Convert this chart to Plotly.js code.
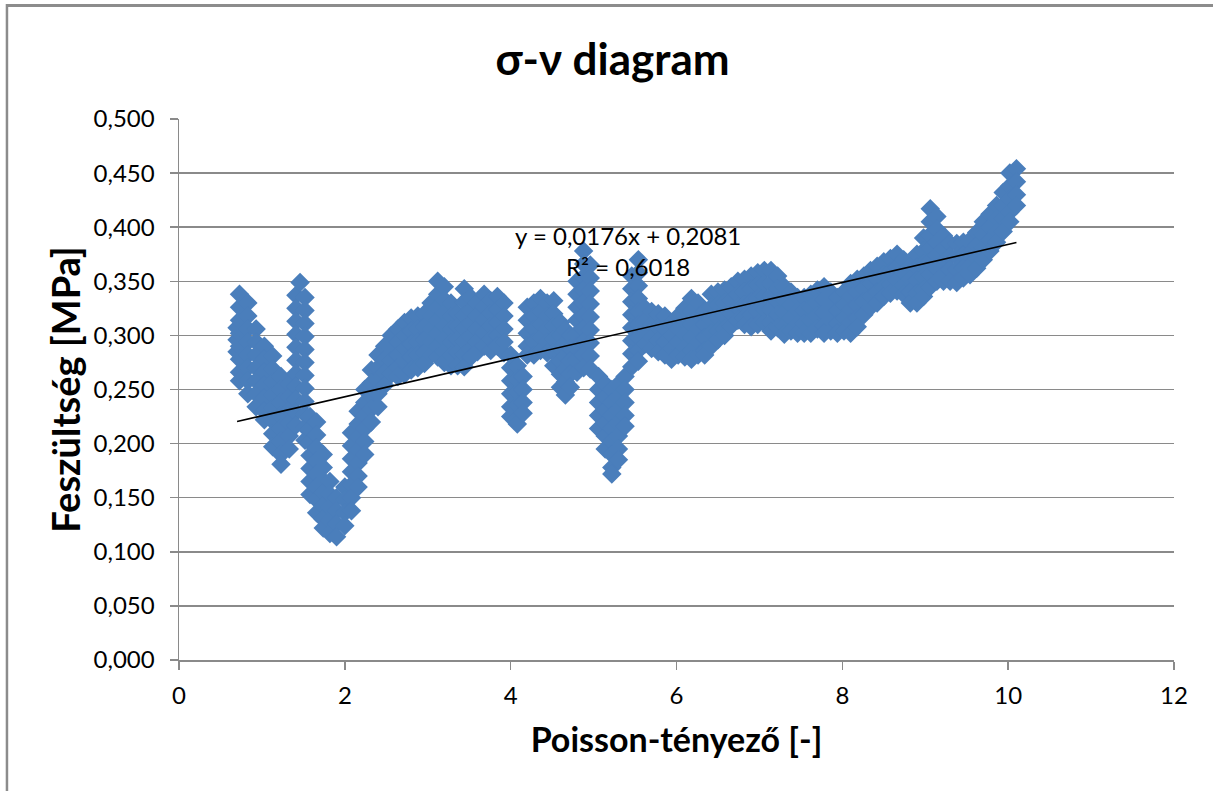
<!DOCTYPE html>
<html>
<head>
<meta charset="utf-8">
<script src="https://cdn.plot.ly/plotly-3.0.1.min.js"></script>
<style>
  html, body { margin: 0; padding: 0; background: #ffffff; }
  #chart { width: 1213px; height: 791px; }
</style>
</head>
<body>
<div id="chart"></div>
<script>
// ---- Data ----
// Each segment: column x values (Poisson-tényező) and, for each column, the stress values (MPa)
const segA_x = [0.70, 0.73, 0.83, 0.93, 1.03, 1.13, 1.23, 1.33, 1.41, 1.46, 1.52];
const segA_y = [
  [0.307, 0.296, 0.285],
  [0.338, 0.326, 0.314, 0.302, 0.290, 0.278, 0.266, 0.258],
  [0.330, 0.318, 0.306, 0.294, 0.282, 0.270, 0.258, 0.246],
  [0.306, 0.294, 0.282, 0.270, 0.258, 0.246, 0.234],
  [0.290, 0.278, 0.266, 0.254, 0.242, 0.230, 0.222],
  [0.281, 0.269, 0.257, 0.245, 0.233, 0.221, 0.209, 0.197],
  [0.262, 0.250, 0.238, 0.226, 0.214, 0.202, 0.190, 0.181],
  [0.255, 0.243, 0.231, 0.219, 0.207, 0.195],
  [0.337, 0.325, 0.313, 0.301, 0.289, 0.277, 0.265, 0.253, 0.241, 0.229, 0.217],
  [0.349],
  [0.335, 0.323, 0.311, 0.299, 0.287, 0.275, 0.263, 0.251, 0.239, 0.227, 0.215, 0.203]
];

const segB_x = [1.58, 1.66, 1.74, 1.82, 1.90, 2.00, 2.08, 2.16, 2.24, 2.32, 2.40, 2.48, 2.56, 2.64];
const segB_y = [
  [0.225, 0.213, 0.201, 0.189, 0.177, 0.165, 0.153],
  [0.220, 0.208, 0.196, 0.184, 0.172, 0.160, 0.148, 0.136],
  [0.190, 0.178, 0.166, 0.154, 0.142, 0.130, 0.122],
  [0.165, 0.153, 0.141, 0.129, 0.117],
  [0.150, 0.138, 0.126, 0.114],
  [0.160, 0.148, 0.136, 0.124],
  [0.210, 0.198, 0.186, 0.174, 0.162, 0.150, 0.138],
  [0.230, 0.218, 0.206, 0.194, 0.182, 0.170, 0.160],
  [0.250, 0.238, 0.226, 0.214, 0.202, 0.190],
  [0.268, 0.256, 0.244, 0.232, 0.220],
  [0.282, 0.270, 0.258, 0.246, 0.234],
  [0.290, 0.278, 0.266, 0.254],
  [0.300, 0.288, 0.276, 0.264],
  [0.306, 0.294, 0.282, 0.270, 0.262]
];

const segC_x = [2.72, 2.80, 2.88, 2.96, 3.04, 3.12, 3.20, 3.28, 3.36, 3.44, 3.52, 3.60, 3.68, 3.76, 3.84, 3.92];
const segC_y = [
  [0.312, 0.300, 0.288, 0.276, 0.264],
  [0.316, 0.304, 0.292, 0.280, 0.268],
  [0.318, 0.306, 0.294, 0.282, 0.270],
  [0.320, 0.308, 0.296, 0.284, 0.274],
  [0.330, 0.318, 0.306, 0.294, 0.282],
  [0.350, 0.338, 0.326, 0.314, 0.302, 0.290, 0.280],
  [0.345, 0.333, 0.321, 0.309, 0.297, 0.285, 0.275],
  [0.330, 0.318, 0.306, 0.294, 0.282, 0.272],
  [0.320, 0.308, 0.296, 0.284, 0.272],
  [0.343, 0.331, 0.319, 0.307, 0.295, 0.283, 0.271],
  [0.335, 0.323, 0.311, 0.299, 0.287, 0.280],
  [0.330, 0.318, 0.306, 0.294, 0.285],
  [0.338, 0.326, 0.314, 0.302, 0.290],
  [0.332, 0.320, 0.308, 0.296, 0.286],
  [0.336, 0.324, 0.312, 0.300, 0.290],
  [0.330, 0.318, 0.306, 0.294, 0.284]
];

const segD_x = [4.00, 4.08, 4.15, 4.20, 4.28, 4.36, 4.44, 4.52, 4.60, 4.66, 4.72, 4.80, 4.88, 4.96,
                5.06, 5.14, 5.22, 5.30, 5.38, 5.46, 5.54];
const segD_y = [
  [0.282, 0.270, 0.258, 0.246, 0.234, 0.225],
  [0.272, 0.260, 0.248, 0.236, 0.224, 0.218],
  [0.262, 0.250, 0.238, 0.228],
  [0.326, 0.314, 0.302, 0.290, 0.282],
  [0.330, 0.318, 0.306, 0.294, 0.282],
  [0.334, 0.322, 0.310, 0.298, 0.286],
  [0.330, 0.318, 0.306, 0.294, 0.284],
  [0.332, 0.320, 0.308, 0.296, 0.284, 0.272],
  [0.312, 0.300, 0.288, 0.276, 0.264, 0.252],
  [0.305, 0.293, 0.281, 0.269, 0.257, 0.245],
  [0.300, 0.288, 0.276, 0.264, 0.252],
  [0.350, 0.338, 0.326, 0.314, 0.302, 0.290, 0.278, 0.266],
  [0.378, 0.366, 0.354, 0.342, 0.330, 0.318, 0.306, 0.294, 0.282, 0.270],
  [0.365, 0.353, 0.341, 0.329, 0.317, 0.305, 0.293, 0.281, 0.269],
  [0.262, 0.250, 0.238, 0.226, 0.214],
  [0.255, 0.243, 0.231, 0.219, 0.207, 0.195],
  [0.250, 0.238, 0.226, 0.214, 0.202, 0.190, 0.178, 0.172],
  [0.255, 0.243, 0.231, 0.219, 0.207, 0.195, 0.185],
  [0.262, 0.250, 0.238, 0.226, 0.216],
  [0.355, 0.343, 0.331, 0.319, 0.307, 0.295, 0.283, 0.271],
  [0.370, 0.358, 0.346, 0.334, 0.322, 0.310, 0.298, 0.286, 0.276]
];

const segE_x = [5.62, 5.70, 5.78, 5.86, 5.94, 6.02, 6.10, 6.18, 6.26, 6.34, 6.42, 6.50, 6.58, 6.66,
                6.74, 6.82, 6.90, 6.98, 7.06, 7.14, 7.22, 7.30, 7.38, 7.46, 7.54, 7.62, 7.70, 7.78,
                7.86, 7.94, 8.02, 8.10, 8.18, 8.26, 8.34, 8.42, 8.50, 8.58, 8.66, 8.74, 8.82];
const segE_y = [
  [0.325, 0.313, 0.301, 0.292],
  [0.322, 0.310, 0.298, 0.288],
  [0.320, 0.308, 0.296, 0.285],
  [0.318, 0.306, 0.294, 0.282],
  [0.312, 0.300, 0.288, 0.278],
  [0.318, 0.306, 0.294, 0.282],
  [0.325, 0.313, 0.301, 0.289, 0.280],
  [0.334, 0.322, 0.310, 0.298, 0.286, 0.278],
  [0.330, 0.318, 0.306, 0.294, 0.282],
  [0.322, 0.310, 0.298, 0.286, 0.282],
  [0.338, 0.326, 0.314, 0.302, 0.290],
  [0.340, 0.328, 0.316, 0.304, 0.296],
  [0.342, 0.330, 0.318, 0.306, 0.300],
  [0.345, 0.333, 0.321, 0.309],
  [0.350, 0.338, 0.326, 0.314],
  [0.352, 0.340, 0.328, 0.316, 0.310],
  [0.355, 0.343, 0.331, 0.319, 0.308],
  [0.358, 0.346, 0.334, 0.322, 0.310],
  [0.360, 0.348, 0.336, 0.324, 0.312],
  [0.360, 0.348, 0.336, 0.324, 0.312, 0.304],
  [0.355, 0.343, 0.331, 0.319, 0.307],
  [0.345, 0.333, 0.321, 0.309, 0.301],
  [0.340, 0.328, 0.316, 0.304],
  [0.335, 0.323, 0.311, 0.302],
  [0.335, 0.323, 0.311, 0.302],
  [0.338, 0.326, 0.314, 0.302],
  [0.342, 0.330, 0.318, 0.306],
  [0.345, 0.333, 0.321, 0.309, 0.302],
  [0.340, 0.328, 0.316, 0.304],
  [0.335, 0.323, 0.311, 0.302],
  [0.340, 0.328, 0.316, 0.304],
  [0.348, 0.336, 0.324, 0.312, 0.302],
  [0.352, 0.340, 0.328, 0.316, 0.308],
  [0.355, 0.343, 0.331, 0.319],
  [0.360, 0.348, 0.336, 0.326],
  [0.364, 0.352, 0.340, 0.330],
  [0.368, 0.356, 0.344, 0.336],
  [0.371, 0.359, 0.347, 0.339],
  [0.375, 0.363, 0.351, 0.341],
  [0.370, 0.358, 0.346, 0.338],
  [0.364, 0.352, 0.340, 0.330]
];

const segF_x = [8.90, 8.98, 9.06, 9.14, 9.22, 9.30, 9.38, 9.46, 9.54, 9.62, 9.70, 9.78, 9.86, 9.94, 10.02, 10.10];
const segF_y = [
  [0.375, 0.363, 0.351, 0.339, 0.330],
  [0.390, 0.378, 0.366, 0.354, 0.342, 0.336],
  [0.417, 0.405, 0.393, 0.381, 0.369, 0.357, 0.345],
  [0.410, 0.398, 0.386, 0.374, 0.362, 0.350],
  [0.392, 0.380, 0.368, 0.356, 0.350],
  [0.385, 0.373, 0.361, 0.350],
  [0.385, 0.373, 0.361, 0.349],
  [0.386, 0.374, 0.362, 0.353],
  [0.388, 0.376, 0.364, 0.356],
  [0.395, 0.383, 0.371, 0.362],
  [0.405, 0.393, 0.381, 0.370],
  [0.412, 0.400, 0.388, 0.378],
  [0.420, 0.408, 0.396, 0.386],
  [0.432, 0.420, 0.408, 0.396],
  [0.450, 0.438, 0.426, 0.414, 0.405],
  [0.454, 0.442, 0.430, 0.420]
];

// Linear trendline as shown on the chart
const trendSlope = 0.0176;
const trendIntercept = 0.2081;
const trendR2 = 0.6018;

// Axis ticks
const xTickVals = [0, 2, 4, 6, 8, 10, 12];
const yTickVals = [0, 0.05, 0.1, 0.15, 0.2, 0.25, 0.3, 0.35, 0.4, 0.45, 0.5];

// ---- Build the series ----
const segments = [[segA_x, segA_y], [segB_x, segB_y], [segC_x, segC_y],
                  [segD_x, segD_y], [segE_x, segE_y], [segF_x, segF_y]];
const xs = [], ys = [];
segments.forEach(([sx, sy]) => {
  sx.forEach((xv, i) => { sy[i].forEach(yv => { xs.push(xv); ys.push(yv); }); });
});
const xMin = Math.min(...xs), xMax = Math.max(...xs);
const fmt = v => v.toFixed(4).replace('.', ',');

const FONT = 'Lato, "Open Sans", "Liberation Sans", sans-serif';
const GRID = '#8a8a8a';

const traces = [
  {
    type: 'scatter', mode: 'markers', x: xs, y: ys, name: 'σ',
    marker: { symbol: 'diamond', size: 15, color: '#4a7ebb', line: { width: 0 } },
    showlegend: false, hoverinfo: 'x+y'
  },
  {
    type: 'scatter', mode: 'lines', name: 'trend',
    x: [xMin, xMax], y: [trendSlope * xMin + trendIntercept, trendSlope * xMax + trendIntercept],
    line: { color: '#000000', width: 1.6 }, showlegend: false, hoverinfo: 'skip'
  }
];

const layout = {
  width: 1213, height: 791,
  margin: { l: 179, r: 39, t: 119, b: 131, pad: 0 },
  paper_bgcolor: '#ffffff', plot_bgcolor: '#ffffff',
  separators: ', ',
  font: { family: FONT, color: '#000000', size: 24 },
  showlegend: false,
  title: {
    text: '<b>σ-ν diagram</b>',
    font: { family: FONT, size: 44, color: '#000000' },
    x: 0.505, xref: 'container', xanchor: 'center',
    y: 1 - 60 / 791, yref: 'container', yanchor: 'middle'
  },
  xaxis: {
    range: [0, 12], tickmode: 'array', tickvals: xTickVals,
    showgrid: false, zeroline: false,
    showline: true, linecolor: GRID, linewidth: 1.5,
    ticks: 'outside', ticklen: 8, tickwidth: 1.5, tickcolor: GRID,
    ticklabelstandoff: 6,
    tickfont: { family: FONT, size: 24, color: '#000000' },
    title: { text: '<b>Poisson-tényező [-]</b>', font: { family: FONT, size: 34, color: '#000000' }, standoff: 20 },
    automargin: false
  },
  yaxis: {
    range: [0, 0.5], tickmode: 'array', tickvals: yTickVals, tickformat: '.3f',
    showgrid: true, gridcolor: GRID, gridwidth: 1.5, zeroline: false,
    showline: true, linecolor: GRID, linewidth: 1.5,
    ticks: 'outside', ticklen: 8, tickwidth: 1.5, tickcolor: GRID,
    ticklabelstandoff: 10,
    tickfont: { family: FONT, size: 24, color: '#000000' },
    title: { text: '<b>Feszültség [MPa]</b>', font: { family: FONT, size: 38, color: '#000000' }, standoff: 1 },
    automargin: false
  },
  annotations: [{
    xref: 'x', yref: 'y', x: 5.415, y: 0.378, showarrow: false,
    text: 'y = ' + fmt(trendSlope) + 'x + ' + fmt(trendIntercept) + '<br>R² = ' + fmt(trendR2),
    font: { family: FONT, size: 24, color: '#000000' }, align: 'center'
  }],
  shapes: [
    { type: 'line', xref: 'paper', yref: 'paper', x0: -0.1729, x1: 1.04, y0: 1.2098, y1: 1.2098,
      line: { color: '#8c8c8c', width: 3 } },
    { type: 'line', xref: 'paper', yref: 'paper', x0: -0.1729, x1: -0.1729, y0: 1.2125, y1: -0.25,
      line: { color: '#8c8c8c', width: 2.5 } }
  ]
};

Plotly.newPlot('chart', traces, layout, { displayModeBar: false, staticPlot: true });
</script>
</body>
</html>
